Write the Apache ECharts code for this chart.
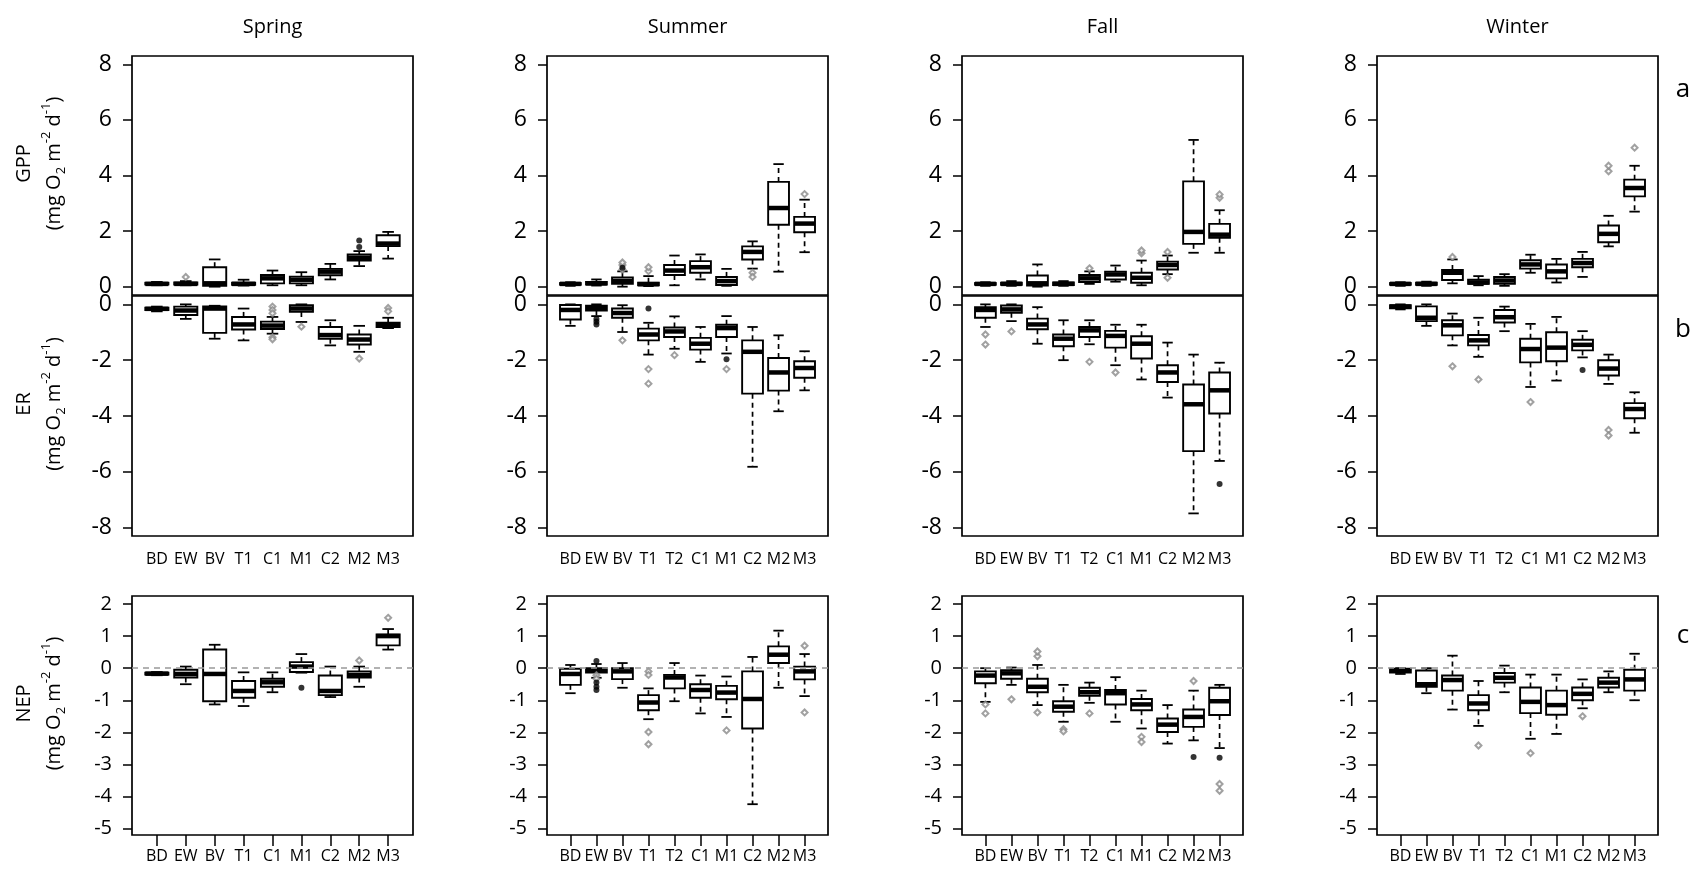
<!DOCTYPE html>
<html><head><meta charset="utf-8">
<script src="https://cdn.jsdelivr.net/npm/echarts@6/dist/echarts.min.js"></script>
<style>html,body{margin:0;padding:0;background:#fff}#c{width:1697px;height:869px}</style>
</head><body><div id="c"></div>
<script>
// ---------- DATA ----------
const seasons = ['Spring', 'Summer', 'Fall', 'Winter'];
const catsSpring = ['BD','EW','BV','T1','C1','M1','C2','M2','M3'];
const catsOther = ['BD','EW','BV','T1','T2','C1','M1','C2','M2','M3'];
const gppTicks = [0, 2, 4, 6, 8];
const erTicks = [-8, -6, -4, -2, 0];
const nepTicks = [-5, -4, -3, -2, -1, 0, 1, 2];
const rowLetters = ['a', 'b', 'c'];
const rowNames = ['GPP', 'ER', 'NEP'];

// box stats: [lower whisker, Q1, median, Q3, upper whisker]
const springGPP = [[0.05,0.08,0.1,0.14,0.17],[0.05,0.08,0.1,0.15,0.2],[0.0,0.03,0.12,0.70,0.98],[0.04,0.07,0.1,0.14,0.25],[0.05,0.12,0.3,0.42,0.58],[0.05,0.12,0.25,0.36,0.52],[0.26,0.41,0.54,0.64,0.82],[0.74,0.94,1.04,1.16,1.28],[1.01,1.46,1.55,1.85,1.97]];
const springGPPOut = [[1,0.35]];
const springGPPBlack = [[7,1.43],[7,1.66]];
const springER = [[-0.25,-0.2,-0.16,-0.12,-0.08],[-0.52,-0.38,-0.22,-0.08,0.0],[-1.23,-1.02,-0.15,-0.07,-0.05],[-1.29,-0.9,-0.72,-0.45,-0.15],[-1.05,-0.88,-0.76,-0.62,-0.45],[-0.63,-0.27,-0.15,-0.03,0.0],[-1.47,-1.23,-1.1,-0.81,-0.57],[-1.7,-1.44,-1.26,-1.08,-0.77],[-0.85,-0.81,-0.73,-0.66,-0.48]];
const springEROut = [[4,-0.08],[4,-0.2],[4,-0.32],[4,-1.18],[4,-1.25],[5,-0.8],[7,-1.94],[8,-0.13],[8,-0.25]];
const springERBlack = [];
const springNEP = [[-0.22,-0.2,-0.17,-0.14,-0.12],[-0.5,-0.29,-0.18,-0.05,0.05],[-1.13,-1.03,-0.18,0.58,0.73],[-1.18,-0.92,-0.71,-0.4,-0.13],[-0.75,-0.58,-0.44,-0.33,-0.13],[-0.14,-0.12,0.05,0.19,0.44],[-0.9,-0.84,-0.71,-0.23,0.05],[-0.58,-0.29,-0.21,-0.1,0.05],[0.58,0.71,1.0,1.05,1.22]];
const springNEPOut = [[7,0.24],[8,1.57]];
const springNEPBlack = [[5,-0.61]];

const summerGPP = [[0.03,0.07,0.1,0.13,0.16],[0.04,0.08,0.12,0.17,0.26],[0.0,0.1,0.2,0.33,0.55],[0.02,0.05,0.09,0.14,0.38],[0.05,0.42,0.58,0.78,1.12],[0.26,0.5,0.7,0.92,1.16],[0.03,0.06,0.2,0.35,0.64],[0.65,0.98,1.25,1.45,1.63],[0.54,2.23,2.83,3.77,4.41],[1.24,1.96,2.27,2.51,3.13]];
const summerGPPOut = [[2,0.62],[2,0.78],[2,0.87],[3,0.56],[3,0.7],[7,0.5],[7,0.35],[9,3.33]];
const summerGPPBlack = [[2,0.68]];
const summerER = [[-0.77,-0.54,-0.2,-0.02,0.0],[-0.42,-0.22,-0.13,-0.05,0.0],[-0.99,-0.48,-0.31,-0.15,-0.03],[-1.8,-1.29,-1.08,-0.87,-0.66],[-1.59,-1.17,-0.97,-0.83,-0.43],[-2.06,-1.62,-1.41,-1.2,-0.81],[-1.76,-1.17,-0.85,-0.73,-0.42],[-5.82,-3.2,-1.7,-1.29,-0.81],[-3.83,-3.09,-2.44,-1.92,-1.11],[-3.08,-2.63,-2.28,-2.04,-1.68]];
const summerEROut = [[2,-1.29],[3,-2.32],[3,-2.84],[4,-1.82],[6,-2.32]];
const summerERBlack = [[1,-0.52],[1,-0.62],[1,-0.72],[3,-0.15],[6,-1.97]];
const summerNEP = [[-0.78,-0.52,-0.18,-0.02,0.1],[-0.3,-0.14,-0.07,0.0,0.13],[-0.61,-0.34,-0.1,0.0,0.16],[-1.59,-1.31,-1.07,-0.84,-0.63],[-1.03,-0.63,-0.29,-0.21,0.16],[-1.41,-0.92,-0.68,-0.5,-0.23],[-1.52,-0.97,-0.76,-0.55,-0.26],[-4.24,-1.88,-0.96,-0.1,0.35],[-0.61,0.16,0.42,0.68,1.17],[-0.87,-0.35,-0.1,0.05,0.44]];
const summerNEPOut = [[1,-0.22],[1,-0.33],[3,-0.1],[3,-0.21],[3,-1.99],[3,-2.37],[6,-1.94],[9,0.7],[9,-1.38]];
const summerNEPBlack = [[1,0.22],[1,-0.45],[1,-0.58],[1,-0.68]];

const fallGPP = [[0.03,0.07,0.1,0.13,0.16],[0.03,0.07,0.1,0.14,0.2],[0.0,0.04,0.12,0.4,0.8],[0.03,0.06,0.1,0.15,0.2],[0.1,0.17,0.3,0.42,0.55],[0.18,0.26,0.44,0.54,0.76],[0.05,0.14,0.32,0.5,0.94],[0.45,0.62,0.78,0.9,1.12],[1.22,1.54,1.97,3.79,5.28],[1.22,1.76,1.87,2.26,2.75]];
const fallGPPOut = [[4,0.66],[6,1.2],[6,1.3],[7,1.25],[7,0.32],[9,3.2],[9,3.32]];
const fallGPPBlack = [];
const fallER = [[-0.81,-0.48,-0.2,-0.1,0.0],[-0.6,-0.3,-0.18,-0.04,0.0],[-1.41,-0.89,-0.72,-0.51,-0.1],[-2.0,-1.5,-1.23,-1.08,-0.57],[-1.43,-1.17,-0.93,-0.81,-0.57],[-2.18,-1.55,-1.13,-0.95,-0.73],[-2.69,-1.94,-1.41,-1.14,-0.73],[-3.34,-2.78,-2.44,-2.18,-1.37],[-7.49,-5.26,-3.58,-2.87,-1.8],[-5.61,-3.91,-3.08,-2.44,-2.09]];
const fallEROut = [[0,-1.08],[0,-1.44],[1,-0.97],[4,-2.06],[5,-2.44]];
const fallERBlack = [[9,-6.44]];
const fallNEP = [[-1.05,-0.47,-0.23,-0.1,0.0],[-0.52,-0.33,-0.16,-0.06,0.02],[-1.15,-0.75,-0.58,-0.33,0.1],[-1.67,-1.36,-1.2,-1.03,-0.52],[-1.08,-0.86,-0.75,-0.61,-0.45],[-1.67,-1.13,-0.78,-0.68,-0.28],[-1.88,-1.31,-1.13,-0.96,-0.7],[-2.35,-1.99,-1.76,-1.57,-1.15],[-2.25,-1.83,-1.52,-1.29,-0.7],[-2.49,-1.46,-1.03,-0.61,-0.52]];
const fallNEPOut = [[0,-1.13],[0,-1.41],[1,-0.97],[2,0.37],[2,0.52],[2,-1.38],[3,-1.9],[3,-1.97],[4,-1.41],[6,-2.14],[6,-2.3],[8,-0.4],[9,-3.61],[9,-3.82]];
const fallNEPBlack = [[8,-2.77],[9,-2.79]];

const winterGPP = [[0.03,0.07,0.1,0.13,0.16],[0.03,0.07,0.1,0.14,0.18],[0.12,0.24,0.5,0.6,0.98],[0.05,0.1,0.15,0.25,0.38],[0.03,0.1,0.22,0.35,0.45],[0.5,0.65,0.8,0.95,1.15],[0.15,0.3,0.55,0.8,1.0],[0.35,0.7,0.85,1.0,1.25],[1.45,1.6,1.9,2.2,2.55],[2.7,3.25,3.55,3.85,4.35]];
const winterGPPOut = [[2,1.07],[8,4.15],[8,4.35],[9,5.0]];
const winterGPPBlack = [];
const winterER = [[-0.18,-0.14,-0.08,-0.03,0.0],[-0.77,-0.6,-0.48,-0.07,0.0],[-1.47,-1.11,-0.75,-0.57,-0.33],[-1.88,-1.47,-1.29,-1.1,-0.48],[-0.96,-0.65,-0.46,-0.2,-0.08],[-2.96,-2.08,-1.6,-1.23,-0.7],[-2.73,-2.04,-1.55,-1.0,-0.45],[-1.9,-1.65,-1.45,-1.27,-0.96],[-2.85,-2.55,-2.3,-2.0,-1.8],[-4.6,-4.08,-3.75,-3.54,-3.15]];
const winterEROut = [[2,-2.22],[3,-2.69],[5,-3.5],[8,-4.5],[8,-4.7]];
const winterERBlack = [[7,-2.35]];
const winterNEP = [[-0.18,-0.14,-0.08,-0.02,0.0],[-0.78,-0.58,-0.5,-0.07,0.0],[-1.29,-0.7,-0.37,-0.23,0.39],[-1.8,-1.31,-1.1,-0.84,-0.4],[-0.75,-0.45,-0.3,-0.15,0.08],[-2.2,-1.4,-1.05,-0.6,-0.2],[-2.05,-1.45,-1.15,-0.7,-0.2],[-1.25,-1.0,-0.8,-0.6,-0.35],[-0.75,-0.6,-0.45,-0.3,-0.1],[-1.0,-0.7,-0.35,-0.05,0.45]];
const winterNEPOut = [[3,-2.41],[5,-2.65],[7,-1.5]];
const winterNEPBlack = [];

// ---------- LAYOUT ----------
const FONT = '"Open Sans", "DejaVu Sans", sans-serif';
const colLeft = [132, 547, 962, 1377];
const colW = 281;
const rows = [
  {top: 56, height: 239, min: -0.3, max: 8.3, ticks: gppTicks},
  {top: 296, height: 240, min: -8.3, max: 0.3, ticks: erTicks},
  {top: 596, height: 239, min: -5.2, max: 2.25, ticks: nepTicks}
];
const panelData = [
  [[springGPP, springGPPOut, springGPPBlack], [springER, springEROut, springERBlack], [springNEP, springNEPOut, springNEPBlack]],
  [[summerGPP, summerGPPOut, summerGPPBlack], [summerER, summerEROut, summerERBlack], [summerNEP, summerNEPOut, summerNEPBlack]],
  [[fallGPP, fallGPPOut, fallGPPBlack], [fallER, fallEROut, fallERBlack], [fallNEP, fallNEPOut, fallNEPBlack]],
  [[winterGPP, winterGPPOut, winterGPPBlack], [winterER, winterEROut, winterERBlack], [winterNEP, winterNEPOut, winterNEPBlack]]
];

function renderBox(params, api) {
  const x = api.value(0);
  const p = [1, 2, 3, 4, 5].map(d => api.coord([x, api.value(d)]));
  const cx = p[0][0];
  const unit = api.size([1, 0])[0];
  const half = unit * 0.4, sh = unit * 0.2;
  const solid = {stroke: '#000', lineWidth: 1.8};
  const dash = {stroke: '#000', lineWidth: 1.7, lineDash: [5, 4]};
  return {
    type: 'group',
    children: [
      {type: 'line', shape: {x1: cx, y1: p[3][1], x2: cx, y2: p[4][1]}, style: dash},
      {type: 'line', shape: {x1: cx, y1: p[1][1], x2: cx, y2: p[0][1]}, style: dash},
      {type: 'line', shape: {x1: cx - sh, y1: p[4][1], x2: cx + sh, y2: p[4][1]}, style: solid},
      {type: 'line', shape: {x1: cx - sh, y1: p[0][1], x2: cx + sh, y2: p[0][1]}, style: solid},
      {type: 'rect', shape: {x: cx - half, y: p[3][1], width: 2 * half, height: Math.max(p[1][1] - p[3][1], 0.5)},
        style: {fill: '#fff', stroke: '#000', lineWidth: 1.9}},
      {type: 'line', shape: {x1: cx - half, y1: p[2][1], x2: cx + half, y2: p[2][1]}, style: {stroke: '#000', lineWidth: 4.5}}
    ]
  };
}

const grids = [], xAxes = [], yAxes = [], series = [];
let g = 0;
for (let s = 0; s < 4; s++) {
  const cats = s === 0 ? catsSpring : catsOther;
  const n = cats.length;
  const idx = cats.map((c, i) => i);
  for (let r = 0; r < 3; r++) {
    const row = rows[r];
    grids.push({left: colLeft[s], top: row.top, width: colW, height: row.height,
      show: true, borderColor: '#000', borderWidth: 1.7, backgroundColor: 'transparent'});
    xAxes.push({
      type: 'value', gridIndex: g, position: 'bottom', min: -0.5 - 0.04 * n, max: n - 0.5 + 0.04 * n,
      axisLine: {show: false, onZero: false}, splitLine: {show: false},
      axisTick: {show: r === 2, customValues: idx, length: 11, lineStyle: {color: '#000', width: 1.5}},
      axisLabel: {show: r !== 0, customValues: idx, formatter: v => cats[Math.round(v)],
        fontSize: 16, color: '#000', fontFamily: FONT, margin: r === 2 ? 13 : 15}
    });
    yAxes.push({
      type: 'value', gridIndex: g, position: 'left', min: row.min, max: row.max,
      axisLine: {show: false, onZero: false}, splitLine: {show: false},
      axisTick: {show: true, customValues: row.ticks, length: 9, lineStyle: {color: '#000', width: 1.5}},
      axisLabel: {customValues: row.ticks, fontSize: r === 2 ? 20 : 23, color: '#000', fontFamily: FONT, margin: 20}
    });
    const [box, out, blk] = panelData[s][r];
    series.push({
      type: 'custom', xAxisIndex: g, yAxisIndex: g, z: 2,
      renderItem: renderBox,
      encode: {x: 0, y: [1, 2, 3, 4, 5]},
      data: box.map((b, i) => [i].concat(b))
    });
    const gray = {
      type: 'scatter', xAxisIndex: g, yAxisIndex: g, z: 3,
      symbol: 'emptyDiamond', symbolSize: 6,
      itemStyle: {color: '#8a8a8a', borderColor: '#8a8a8a', borderWidth: 1.2},
      data: out
    };
    if (r === 2) {
      gray.markLine = {silent: true, symbol: 'none', z: 5, label: {show: false},
        lineStyle: {type: [6, 5], color: '#999', width: 1.5}, data: [{yAxis: 0}]};
    }
    series.push(gray);
    series.push({
      type: 'scatter', xAxisIndex: g, yAxisIndex: g, z: 3,
      symbol: 'circle', symbolSize: 6, itemStyle: {color: '#000'},
      data: blk
    });
    g++;
  }
}

const graphics = [];
seasons.forEach((name, s) => {
  graphics.push({type: 'text', x: colLeft[s] + colW / 2, y: 27,
    style: {text: name, fontSize: 20, fontFamily: FONT, fill: '#000', align: 'center', verticalAlign: 'middle',
      textAlign: 'center', textVerticalAlign: 'middle'}});
});
const letterY = [90, 330, 636];
rowLetters.forEach((l, r) => {
  graphics.push({type: 'text', x: 1683, y: letterY[r],
    style: {text: l, fontSize: 26, fontFamily: FONT, fill: '#000', align: 'center', verticalAlign: 'middle',
      textAlign: 'center', textVerticalAlign: 'middle'}});
});
const unitRich = {
  n: {fontSize: 20, fontFamily: FONT, lineHeight: 28, fill: '#000'},
  sub: {fontSize: 13, fontFamily: FONT, lineHeight: 28, verticalAlign: 'bottom', fill: '#000'},
  sup: {fontSize: 13, fontFamily: FONT, lineHeight: 28, verticalAlign: 'top', fill: '#000'}
};
rowNames.forEach((nm, r) => {
  const cy = rows[r].top + rows[r].height / 2 - 12;
  graphics.push({type: 'text', x: 24, y: cy, rotation: Math.PI / 2,
    style: {text: nm, fontSize: 20, fontFamily: FONT, fill: '#000', align: 'center', verticalAlign: 'middle',
      textAlign: 'center', textVerticalAlign: 'middle'}});
  graphics.push({type: 'text', x: 54, y: cy, rotation: Math.PI / 2,
    style: {text: '{n|(mg O}{sub|2}{n| m}{sup|-2}{n| d}{sup|-1}{n|)}', rich: unitRich,
      align: 'center', verticalAlign: 'middle', textAlign: 'center', textVerticalAlign: 'middle'}});
});

const chart = echarts.init(document.getElementById('c'), null, {renderer: 'canvas'});
chart.setOption({
  backgroundColor: '#fff',
  animation: false,
  grid: grids, xAxis: xAxes, yAxis: yAxes, series: series,
  graphic: graphics
});
</script></body></html>
